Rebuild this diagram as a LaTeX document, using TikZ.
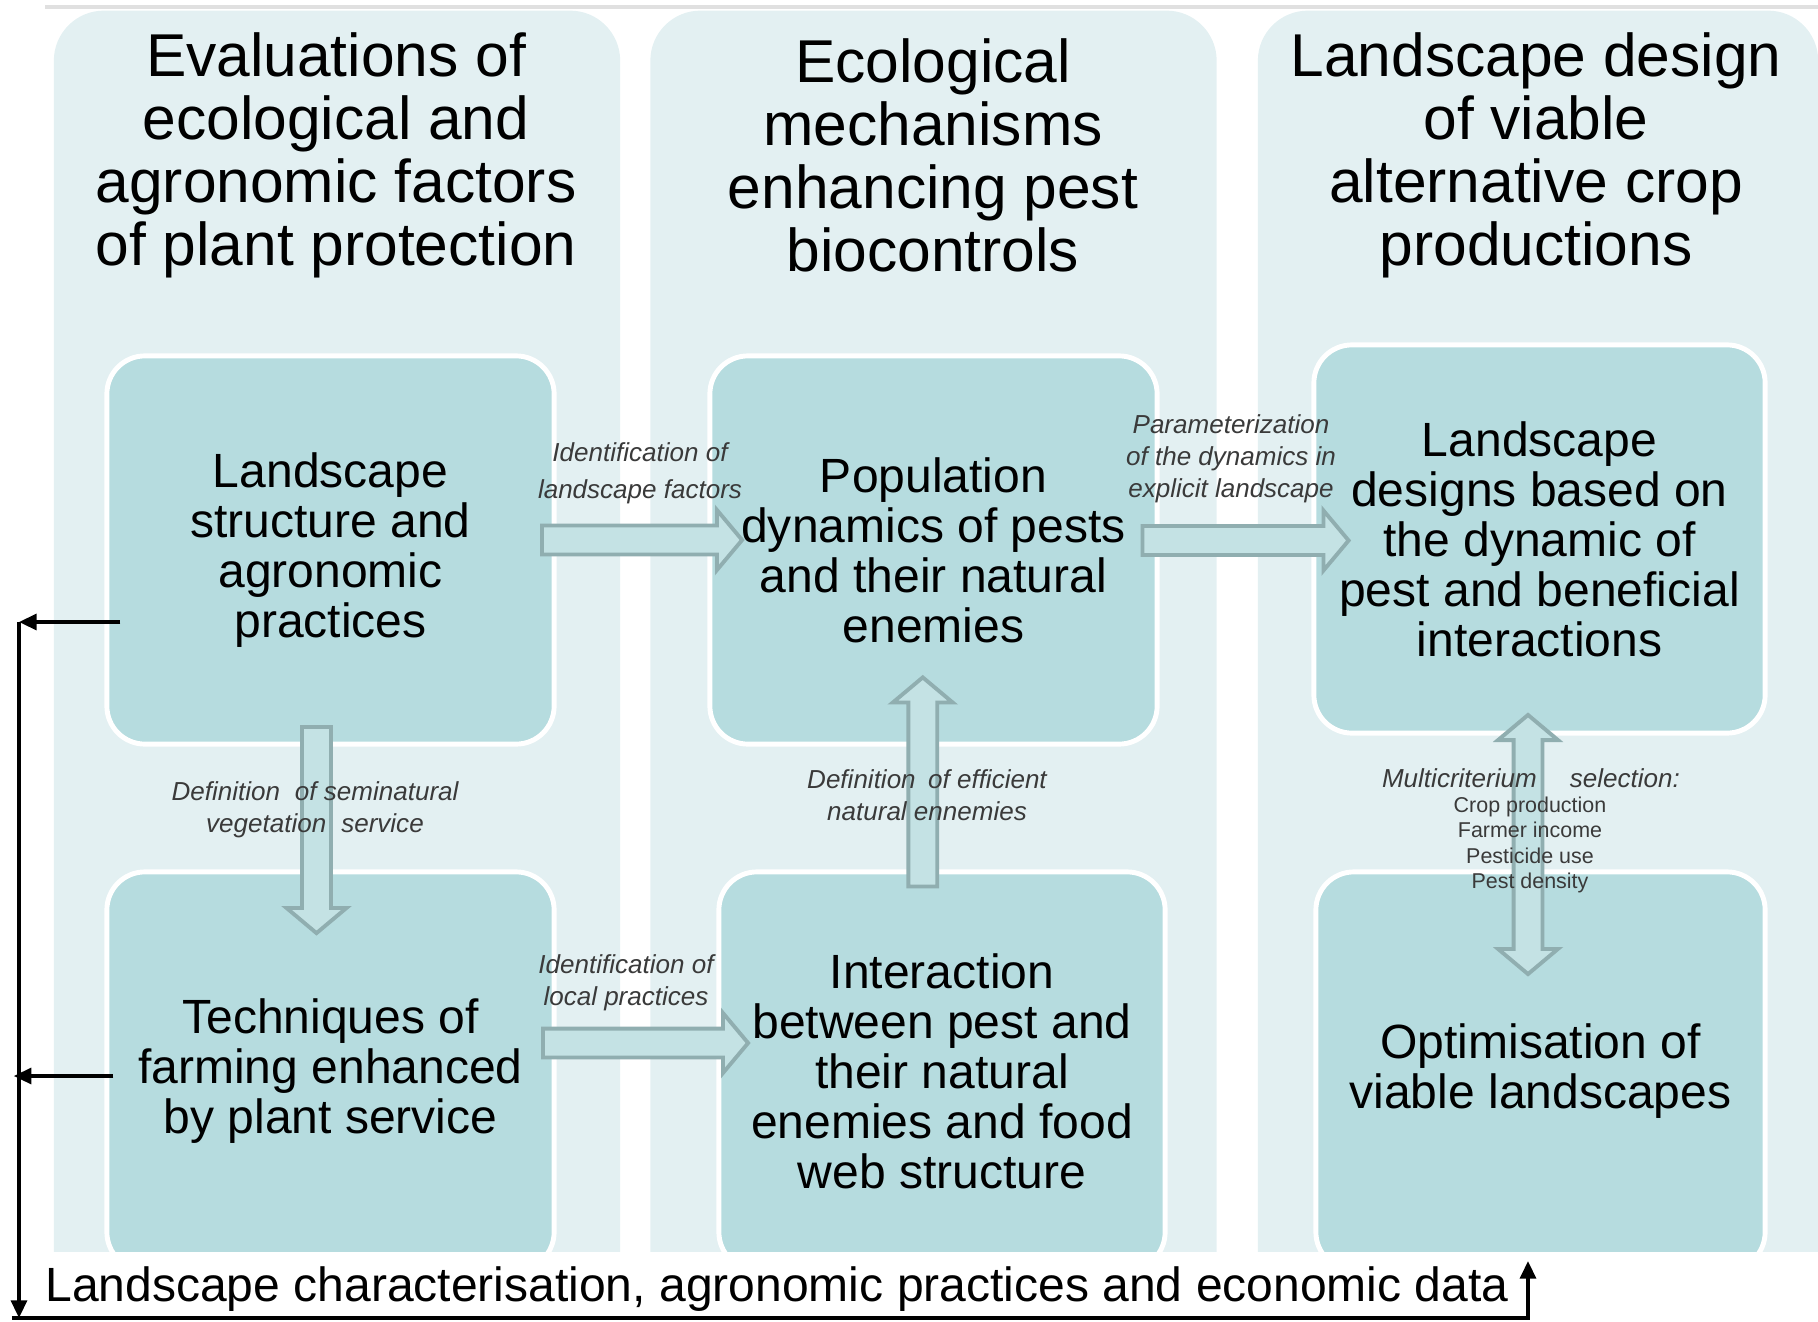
\documentclass[tikz,border=0pt]{standalone}
\usepackage{fontspec}
\setmainfont{Liberation Sans}
\usepackage{tikz}
\definecolor{colbg}{RGB}{227,240,242}
\definecolor{boxfill}{RGB}{182,220,223}
\definecolor{arrfill}{RGB}{196,226,228}
\definecolor{arrline}{RGB}{144,174,176}
\definecolor{lblgray}{RGB}{58,58,58}
\definecolor{topgray}{RGB}{224,224,224}
\usetikzlibrary{shapes.arrows,calc}
\usetikzlibrary{arrows.meta}
\tikzset{
  col_bg/.style = {rectangle, rounded corners=0.5cm, fill=colbg,
    minimum width=5.66cm, minimum height=12.9cm, inner sep=0pt},% column
  eco_box/.style = {rectangle, rounded corners=0.38cm, fill=boxfill, draw=white,
    line width=1.4pt, minimum width=4.47cm, align=center, inner sep=0pt,
    font=\fontsize{13.66pt}{14.2pt}\selectfont},% inner box
  eco_title/.style = {align=center, inner sep=0pt,
    font=\fontsize{17.2pt}{17.9pt}\selectfont},
  eco_lbl/.style = {align=center, inner sep=0pt, text=lblgray,
    font=\fontsize{7.4pt}{9.1pt}\selectfont\itshape},
  eco_list/.style = {align=center, inner sep=0pt, text=lblgray,
    font=\fontsize{6.1pt}{7.25pt}\selectfont},
  blk_arrow/.style = {single arrow, draw=arrline, fill=arrfill, line width=1.1pt,
    inner xsep=0pt, inner ysep=0.125cm, minimum width=0.56cm,
    single arrow head extend=0.155cm, single arrow tip angle=100},
  blk_darrow/.style = {double arrow, draw=arrline, fill=arrfill, line width=1.1pt,
    inner xsep=0pt, inner ysep=0.125cm, minimum width=0.56cm,
    double arrow head extend=0.155cm, double arrow tip angle=100},
  feed/.style = {black, line width=1pt},
}

\begin{document}
\begin{tikzpicture}[x=0.01cm,y=-0.01cm,>={Triangle[length=5pt,width=4.5pt]}]
  \useasboundingbox (0,0) rectangle (1818,1321);
%   columns
  \draw[topgray, line width=0.9pt] (45,7) -- (1818,7);
  \node[col_bg] (c1) at (337,656) {};
  \node[col_bg] (c2) at (933.5,656) {};
  \node[col_bg, minimum width=5.6cm] (c3) at (1538,656) {};

  \node[eco_title] (t1) at (336,155) {Evaluations of\\ecological and\\agronomic factors\\of plant protection};
  \node[eco_title] (t2) at (933,155) {Ecological\\mechanisms\\enhancing pest\\biocontrols};
  \node[eco_title] (t3) at (1536,155) {Landscape design\\of viable\\alternative crop\\productions};

%   boxes
  \node[eco_box, minimum height=3.88cm] (B1) at (330.5,550) {Landscape\\structure and\\agronomic\\practices};
  \node[eco_box, minimum height=3.88cm] (B2) at (933.5,550) {Population\\dynamics of pests\\and their natural\\enemies};
  \node[eco_box, minimum height=3.88cm, minimum width=4.51cm] (B3) at (1539.5,539) {Landscape\\designs based on\\the dynamic of\\pest and beneficial\\interactions};
  \node[eco_box, minimum height=3.98cm] (B4) at (330.5,1071) {Techniques of\\farming enhanced\\by plant service};
  \node[eco_box, minimum height=3.98cm, minimum width=4.46cm] (B5) at (942,1071) {Interaction\\between pest and\\their natural\\enemies and food\\web structure};
  \node[eco_box, minimum height=3.98cm, minimum width=4.49cm] (B6) at (1540.5,1071) {Optimisation of\\viable landscapes};

  \fill[white] (0,1252) rectangle (1818,1321);

%   block arrows
  \node[blk_arrow, minimum height=2cm] (a1) at ($(B1.east)!.5!(B2.west)+(4,-10)$) {};
  \node[blk_arrow, minimum height=2.06cm] (a2) at ($(B2.east)!.5!(B3.west)+(4,-4)$) {};
  \node[blk_arrow, minimum height=2.06cm, rotate=-90] (a3) at ($(B1.south)!.5!(B4.north)+(-14,16)$) {};
  \node[blk_arrow, minimum height=2.09cm, rotate=90] (a4) at ($(B5.north)!.5!(B2.south)+(-15,-20)$) {};
  \node[blk_arrow, minimum height=2.05cm] (a5) at ($(B4.east)!.5!(B5.west)+(3,-28)$) {};
  \node[blk_darrow, minimum height=2.59cm, rotate=90] (a6) at ($(B3.south)!.5!(B6.north)+(-12,42)$) {};

  \node[eco_lbl, font=\fontsize{7.4pt}{10.5pt}\selectfont\itshape] (l1) at (640,473) {Identification of\\landscape factors};
  \node[eco_lbl] (l2) at (1231,459) {Parameterization\\of the dynamics in\\explicit landscape};
  \node[eco_lbl] (l3) at (315,810) {Definition\hspace{0.3em} of seminatural\\vegetation\hspace{0.3em} service};
  \node[eco_lbl] (l4) at (927,795) {Definition\hspace{0.2em} of efficient\\natural ennemies};
  \node[eco_lbl] (l5) at (626,983) {Identification of\\local practices};
  \node[eco_lbl] (l6) at (1531,778) {Multicriterium\hspace{1em} selection:};
  \node[eco_list] (l7) at (1530,845) {Crop production\\Farmer income\\Pesticide use\\Pest density};

%   data loop
  \coordinate (r_top) at (19,622);
  \coordinate (r_mid) at (19,1076);
  \coordinate (r_bot) at (19,1318);
  \coordinate (r_end) at (1528,1318);
  \coordinate (r_tip) at (1528,1261);
  \draw[feed,->] ($(B1.west)+(16,72)$) -- (r_top);
  \draw[feed,->] ($(B4.west)+(9,5)$) -- ([xshift=-1.5pt]r_mid);
  \draw[feed,->] (r_top) -- (r_bot);
  \draw[feed,->] ([xshift=-2pt]r_bot) -- (r_end) -- (r_tip);
  \node[anchor=base, inner sep=0pt, font=\fontsize{13.66pt}{14.2pt}\selectfont] (data) at (777,1301) {Landscape characterisation, agronomic practices and economic data};
\end{tikzpicture}
\end{document}
